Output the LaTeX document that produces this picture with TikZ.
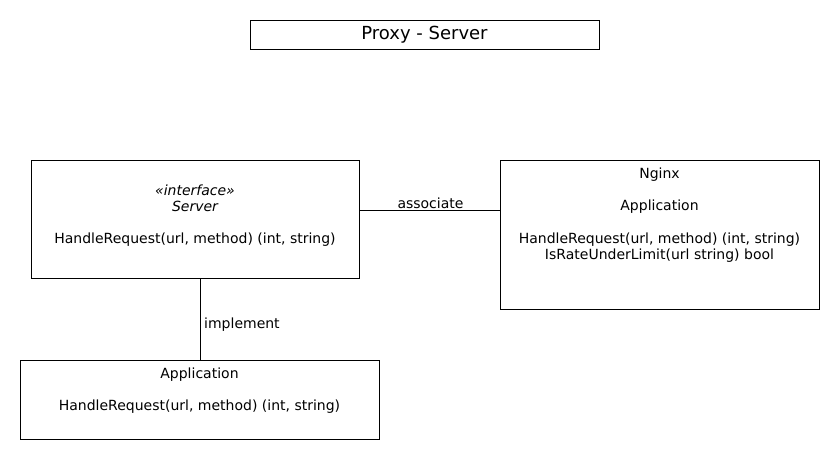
\documentclass[tikz,border=0pt]{standalone}
\usepackage{fontspec}
\setmainfont{DejaVu Sans}
\begin{document}
\begin{tikzpicture}[x=1pt,y=-1pt,
  box/.style={draw=black,line width=1pt,inner sep=0pt,anchor=north west},
  txt/.style={inner sep=0pt,font=\fontsize{14}{16}\selectfont,anchor=center},
  conn/.style={draw=black,line width=1pt}]
\useasboundingbox[fill=white] (0,0) rectangle (840,460);
% title
\node[box,minimum width=349pt,minimum height=29pt] (title) at (250,20) {};
\node[inner sep=0pt,font=\fontsize{18}{20}\selectfont] (titletxt) at (424.5,35) {Proxy - Server};
% Server interface
\node[box,minimum width=328pt,minimum height=118pt] (server) at (31,160) {};
\node[txt] (stereo) at (195,190) {\itshape «interface»};
\node[txt] (sname) at (195,206.5) {\itshape Server};
\node[txt] (sm) at (195,240) {HandleRequest(url, method) (int, string)};
% Nginx
\node[box,minimum width=319pt,minimum height=149pt] (nginx) at (500,160) {};
\node[txt] (nname) at (659.5,175) {Nginx};
\node[txt] (nsub) at (659.5,207) {Application};
\node[txt] (nm1) at (659.5,240) {HandleRequest(url, method) (int, string)};
\node[txt] (nm2) at (659.5,256) {IsRateUnderLimit(url string) bool};
% Application
\node[box,minimum width=359pt,minimum height=79pt] (app) at (20,360) {};
\node[txt] (aname) at (199.5,375) {Application};
\node[txt] (am) at (199.5,407) {HandleRequest(url, method) (int, string)};
% connectors
\coordinate (sr) at (server.east |- 0,210);
\coordinate (nl) at (nginx.west |- 0,210);
\draw[conn] (sr) -- (nl);
\node[txt] (assoc) at (430.5,203) {associate};
\coordinate (sb) at (200,0 |- server.south);
\coordinate (at) at (200,0 |- app.north);
\draw[conn] (sb) -- (at);
\node[txt,anchor=west] (impl) at (204,325) {implement};
\end{tikzpicture}
\end{document}
